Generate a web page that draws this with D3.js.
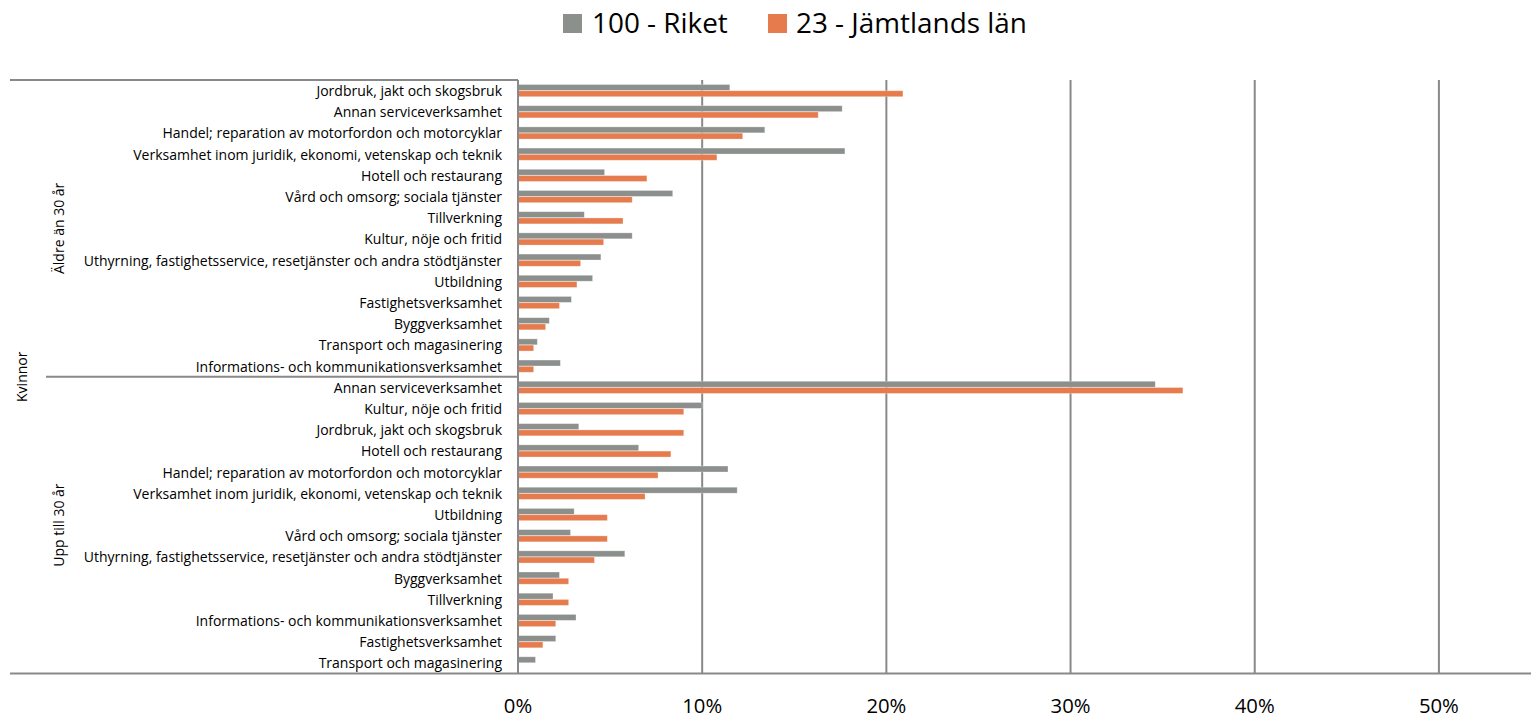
<!DOCTYPE html>
<html>
<head>
<meta charset="utf-8">
<script src="https://cdn.jsdelivr.net/npm/d3@7"></script>
<style>
  html, body { margin: 0; padding: 0; background: #fff; }
  svg { display: block; }
  text { font-family: "Open Sans", "Liberation Sans", Arial, sans-serif; fill: #000; }
</style>
</head>
<body>
<svg id="chart" width="1531" height="719"></svg>
<script>
const seriesNames = ["100 - Riket", "23 - Jämtlands län"];
const seriesColors = ["#8C908D", "#E67C4E"];
const outerGroup = "Kvinnor";
const groupNames = ["Äldre än 30 år", "Upp till 30 år"];

const categoriesOlder = [
  "Jordbruk, jakt och skogsbruk",
  "Annan serviceverksamhet",
  "Handel; reparation av motorfordon och motorcyklar",
  "Verksamhet inom juridik, ekonomi, vetenskap och teknik",
  "Hotell och restaurang",
  "Vård och omsorg; sociala tjänster",
  "Tillverkning",
  "Kultur, nöje och fritid",
  "Uthyrning, fastighetsservice, resetjänster och andra stödtjänster",
  "Utbildning",
  "Fastighetsverksamhet",
  "Byggverksamhet",
  "Transport och magasinering",
  "Informations- och kommunikationsverksamhet"
];
const riketOlder = [11.5, 17.6, 13.4, 17.75, 4.7, 8.4, 3.6, 6.2, 4.5, 4.05, 2.9, 1.7, 1.05, 2.3];
const jamtOlder  = [20.9, 16.3, 12.2, 10.8, 7.0, 6.2, 5.7, 4.65, 3.4, 3.2, 2.25, 1.5, 0.85, 0.85];

const categoriesYoung = [
  "Annan serviceverksamhet",
  "Kultur, nöje och fritid",
  "Jordbruk, jakt och skogsbruk",
  "Hotell och restaurang",
  "Handel; reparation av motorfordon och motorcyklar",
  "Verksamhet inom juridik, ekonomi, vetenskap och teknik",
  "Utbildning",
  "Vård och omsorg; sociala tjänster",
  "Uthyrning, fastighetsservice, resetjänster och andra stödtjänster",
  "Byggverksamhet",
  "Tillverkning",
  "Informations- och kommunikationsverksamhet",
  "Fastighetsverksamhet",
  "Transport och magasinering"
];
const riketYoung = [34.6, 10.0, 3.3, 6.55, 11.4, 11.9, 3.05, 2.85, 5.8, 2.25, 1.9, 3.15, 2.05, 0.95];
const jamtYoung  = [36.1, 9.0, 9.0, 8.3, 7.6, 6.9, 4.85, 4.85, 4.15, 2.75, 2.75, 2.05, 1.35, 0];

const xTicks = [0, 10, 20, 30, 40, 50];
const xTickLabels = ["0%", "10%", "20%", "30%", "40%", "50%"];

// build rows
const rows = [];
categoriesOlder.forEach((c, i) => rows.push({ key: "o" + i, group: 0, cat: c, vals: [riketOlder[i], jamtOlder[i]] }));
categoriesYoung.forEach((c, i) => rows.push({ key: "y" + i, group: 1, cat: c, vals: [riketYoung[i], jamtYoung[i]] }));

const svg = d3.select("#chart");
const plotLeft = 518, plotRight = 1531, plotTop = 80, plotBottom = 673.5;
const lineColor = "#898989";

// helper: font size so that sample text gets a target width
function fitSize(sample, target, base) {
  const t = svg.append("text").attr("font-size", base).text(sample);
  const w = t.node().getComputedTextLength();
  t.remove();
  return base * target / w;
}
const labelSize = fitSize("Verksamhet inom juridik, ekonomi, vetenskap och teknik", 369, 12);
const legendSize = fitSize("23 - Jämtlands län", 231, 22);
const tickSize = fitSize("50%", 40, 18);

const x = d3.scaleLinear().domain([0, 55]).range([plotLeft, plotRight]);
const y = d3.scaleBand().domain(rows.map(r => r.key)).range([plotTop, plotBottom]).paddingInner(0).paddingOuter(0);
const ys = d3.scaleBand().domain([0, 1]).range([0, y.bandwidth()]).paddingInner(0.05).paddingOuter(0.72);

// gridlines
svg.append("g").selectAll("line").data(xTicks.filter(t => t > 0)).join("line")
  .attr("x1", d => x(d)).attr("x2", d => x(d))
  .attr("y1", plotTop).attr("y2", plotBottom)
  .attr("stroke", lineColor).attr("stroke-width", 2);

// bars
const rowG = svg.append("g").selectAll("g").data(rows).join("g")
  .attr("transform", d => `translate(0,${y(d.key)})`);
rowG.selectAll("rect").data(d => d.vals.map((v, i) => ({ v, i }))).join("rect")
  .attr("x", x(0))
  .attr("y", d => ys(d.i))
  .attr("width", d => Math.max(0, x(d.v) - x(0)))
  .attr("height", ys.bandwidth())
  .attr("fill", d => seriesColors[d.i])
  .attr("stroke", d => d.v > 0 ? "rgba(255,255,255,0.35)" : "none")
  .attr("stroke-width", 0.8);

// axis lines
svg.append("line").attr("x1", x(0)).attr("x2", x(0)).attr("y1", plotTop).attr("y2", plotBottom)
  .attr("stroke", lineColor).attr("stroke-width", 2);
svg.append("line").attr("x1", 10).attr("x2", plotRight).attr("y1", plotBottom).attr("y2", plotBottom)
  .attr("stroke", lineColor).attr("stroke-width", 2);
svg.append("line").attr("x1", 10).attr("x2", x(0)).attr("y1", plotTop).attr("y2", plotTop)
  .attr("stroke", lineColor).attr("stroke-width", 2);
const divY = y("y0");
svg.append("line").attr("x1", 46).attr("x2", x(0)).attr("y1", divY).attr("y2", divY)
  .attr("stroke", lineColor).attr("stroke-width", 2);

// category labels
svg.append("g").selectAll("text").data(rows).join("text")
  .attr("x", 502)
  .attr("y", d => y(d.key) + y.bandwidth() / 2)
  .attr("text-anchor", "end")
  .attr("dominant-baseline", "central")
  .attr("font-size", labelSize)
  .text(d => d.cat);

// group labels
groupNames.forEach((g, gi) => {
  const keys = rows.filter(r => r.group === gi).map(r => r.key);
  const cy = (y(keys[0]) + y(keys[keys.length - 1]) + y.bandwidth()) / 2;
  svg.append("text")
    .attr("transform", `translate(64,${cy}) rotate(-90)`)
    .attr("text-anchor", "middle")
    .attr("font-size", labelSize)
    .text(g);
});
svg.append("text")
  .attr("transform", `translate(27,${(plotTop + plotBottom) / 2}) rotate(-90)`)
  .attr("text-anchor", "middle")
  .attr("font-size", labelSize)
  .text(outerGroup);

// x tick labels
svg.append("g").selectAll("text").data(xTicks).join("text")
  .attr("x", d => x(d))
  .attr("y", 705)
  .attr("text-anchor", "middle")
  .attr("dominant-baseline", "central")
  .attr("font-size", tickSize)
  .text((d, i) => xTickLabels[i]);

// legend
const legendItems = [{ x: 563, tx: 592 }, { x: 768, tx: 796 }];
legendItems.forEach((it, i) => {
  svg.append("rect").attr("x", it.x).attr("y", 14).attr("width", 19).attr("height", 19).attr("fill", seriesColors[i]);
  svg.append("text").attr("x", it.tx).attr("y", 33).attr("font-size", legendSize).text(seriesNames[i]);
});
</script>
</body>
</html>
